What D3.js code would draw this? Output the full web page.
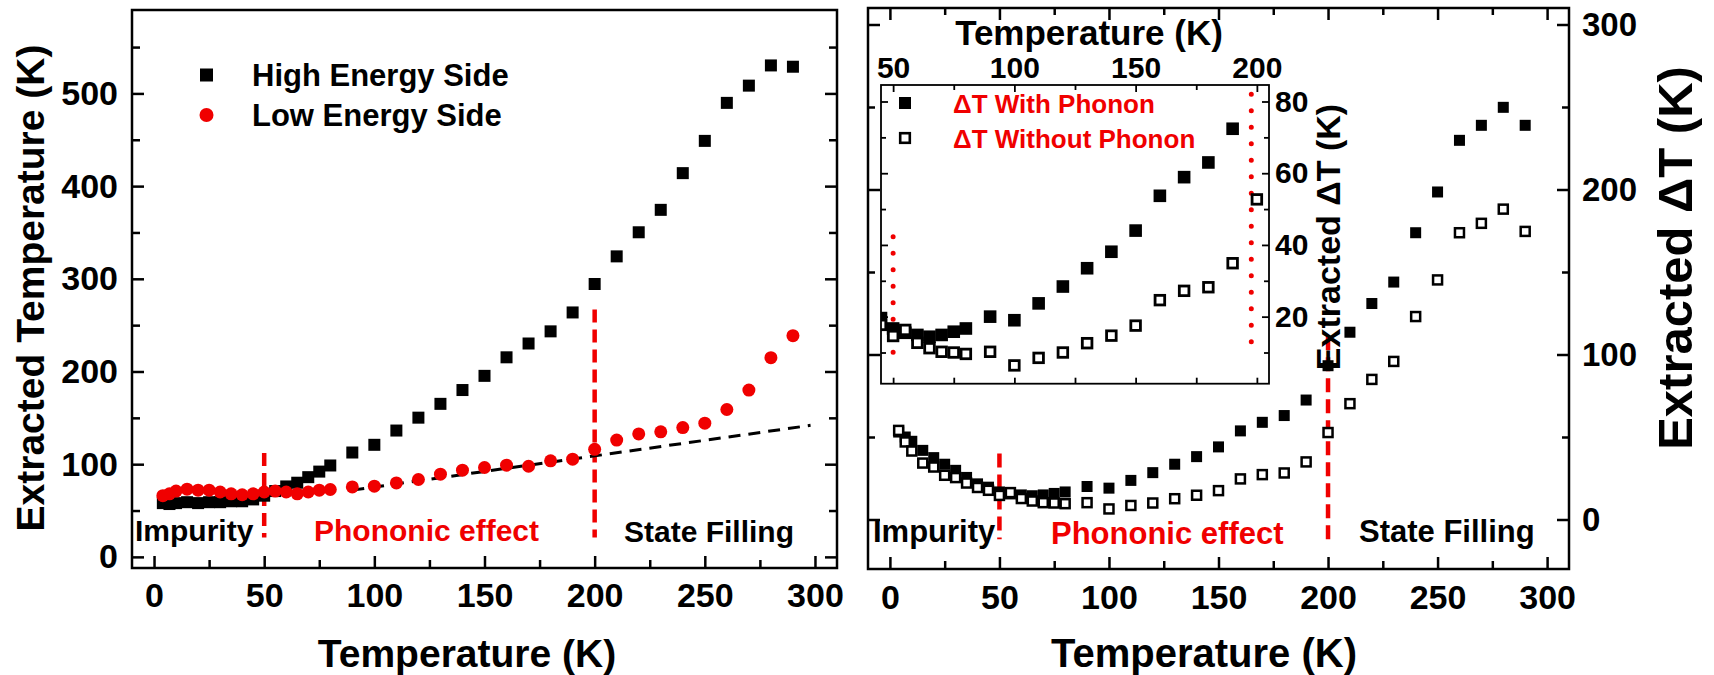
<!DOCTYPE html>
<meta charset="utf-8">
<title>Extracted temperature and extracted delta T</title>
<style>
body {
  margin: 0;
  background-color: #fff;
}
</style>
<body>
<script src="https://d3js.org/d3.v7.min.js"></script>
<script>
// ---- data ----
// lattice temperatures (K), shared by both panels
var temps = [4, 7, 10, 15, 20, 25, 30, 35, 40, 45, 50, 55, 60, 65, 70, 75, 80,
             90, 100, 110, 120, 130, 140, 150, 160, 170, 180, 190, 200,
             210, 220, 230, 240, 250, 260, 270, 280, 290];

// left panel: extracted carrier temperature (K)
var highSide = [58, 57, 58, 59, 58, 59, 59, 60, 60, 62, 66, 71, 76, 80, 86, 92, 98.6,
                112.6, 120.9, 136.3, 150.2, 165.1, 180, 195.3, 215.3, 230.2, 243.3, 263.7, 294.4,
                324.2, 350.2, 374.4, 414, 448.8, 489.8, 508.4, 530.2, 528.8];
var lowSide = [66, 68, 71, 73, 72, 72, 70, 68, 67, 68, 70, 71, 70, 68, 70, 72, 72.7,
               75.5, 76.3, 79.8, 83.5, 89.2, 93.5, 96.4, 98.9, 97.8, 103.6, 105.4, 116,
               126, 132.6, 134.9, 139.5, 144.2, 159, 180, 214.9, 238.6];

// linear phonon fit (dashed black)
var fitT = [90, 298];
var fitVals = [72, 141.9];

// right panel: extracted delta T (K)
var dtWith = [53, 50, 47.4, 41.9, 37.5, 33.5, 29.8, 25.5, 21.6, 19.6, 16.7, 15.5, 14.9, 14.4, 14.9, 15.8, 16.7,
              20, 19, 23.7, 28.4, 33.5, 38.1, 44, 53.7, 58.9, 63, 72.4, 93.2,
              113.5, 130.9, 143.9, 173.8, 198.5, 229.8, 238.9, 249.8, 238.9];
var dtWithout = [54, 47, 41.5, 34.2, 31.8, 26.8, 25.4, 22.1, 19.4, 17.7, 14.6, 16.3, 12.7, 11.2, 10.2, 10, 9.6,
                 10.2, 6.4, 8.5, 10, 12.6, 14.7, 17.5, 24.6, 27.2, 28.2, 34.9, 52.7,
                 70.2, 84.9, 95.8, 123, 145.2, 173.8, 179.5, 188.1, 174.6];

// region boundaries and labels
var bounds = [50, 200];
var leftBoundTop = [112, 267], leftBoundBottom = 21;
var rightBoundTop = [40, 111], rightBoundBottom = -12;
var insetBoundT = [50, 197.7], insetBoundTop = [42.3, 82], insetBoundBottom = [9.9, 8.5];
var regionNames = ["Impurity", "Phononic effect", "State Filling"];
var legendLeft = ["High Energy Side", "Low Energy Side"];
var legendInset = ["\u0394T With Phonon", "\u0394T Without Phonon"];

// ticks
var xMajor = [0, 50, 100, 150, 200, 250, 300];
var xMinor = [25, 75, 125, 175, 225, 275];
var yLeftMajor = [0, 100, 200, 300, 400, 500];
var yLeftMinor = [50, 150, 250, 350, 450, 550];
var yRightMajor = [0, 100, 200, 300];
var yRightMinor = [50, 150, 250];
var xInsetMajor = [50, 100, 150, 200];
var xInsetMinor = [75, 125, 175];
var yInsetMajor = [20, 40, 60, 80];
var yInsetMinor = [10, 30, 50, 70];

var font = "'Liberation Sans', Arial, sans-serif";
var red = "#f00000";

var svg = d3.select("body").append("svg")
    .attr("width", 1714)
    .attr("height", 675)
    .style("background", "#fff");

// scales
var xL = d3.scaleLinear().domain([-10, 310]).range([132, 837]);
var yL = d3.scaleLinear().domain([-12, 590]).range([568, 10]);
var xR = d3.scaleLinear().domain([-10, 310]).range([868, 1569]);
var yR = d3.scaleLinear().domain([-30, 310]).range([569, 8]);
var xI = d3.scaleLinear().domain([45, 205]).range([881, 1269]);
var yI = d3.scaleLinear().domain([1.3, 84.6]).range([383.7, 85]);

// draw one axis, no domain line
function axisAt(axis, tx, ty, fs, sw) {
  var a = svg.append("g")
      .attr("transform", "translate(" + tx + "," + ty + ")")
      .call(axis);
  a.select(".domain").remove();
  a.attr("font-size", fs).attr("font-family", font).attr("font-weight", "bold");
  a.selectAll("line").attr("stroke", "#000").attr("stroke-width", sw);
  a.selectAll("text").attr("fill", "#000");
  return a;
}

function text(x, y, s, size, color, anchor, rotate) {
  var t = svg.append("text")
      .attr("font-family", font)
      .attr("font-weight", "bold")
      .attr("font-size", size)
      .attr("fill", color || "#000")
      .attr("text-anchor", anchor || "start")
      .text(s);
  if (rotate) t.attr("transform", "translate(" + x + "," + y + ") rotate(-90)");
  else t.attr("x", x).attr("y", y);
  return t;
}

// ================= LEFT PANEL =================
var gL = svg.append("g");

// dashed region boundaries
bounds.forEach(function(b, i) {
  gL.append("line")
    .attr("x1", xL(b)).attr("x2", xL(b))
    .attr("y1", yL(leftBoundTop[i])).attr("y2", yL(leftBoundBottom))
    .attr("stroke", red).attr("stroke-width", 4.5)
    .attr("stroke-dasharray", "13,7");
});

// high energy side squares
gL.selectAll("rect.high")
  .data(temps)
  .enter().append("rect")
  .attr("class", "high")
  .attr("x", function(d) { return xL(d) - 6; })
  .attr("y", function(d, i) { return yL(highSide[i]) - 6; })
  .attr("width", 12).attr("height", 12)
  .attr("fill", "#000");

// dashed fit line
gL.append("line")
  .attr("x1", xL(fitT[0])).attr("y1", yL(fitVals[0]))
  .attr("x2", xL(fitT[1])).attr("y2", yL(fitVals[1]))
  .attr("stroke", "#000").attr("stroke-width", 3)
  .attr("stroke-dasharray", "12,8");

// low energy side circles
gL.selectAll("circle.low")
  .data(temps)
  .enter().append("circle")
  .attr("class", "low")
  .attr("cx", function(d) { return xL(d); })
  .attr("cy", function(d, i) { return yL(lowSide[i]); })
  .attr("r", 6.5)
  .attr("fill", red);

// frame and ticks
svg.append("rect").attr("x", 132).attr("y", 10).attr("width", 705).attr("height", 558)
  .attr("fill", "none").attr("stroke", "#000").attr("stroke-width", 2.5);
axisAt(d3.axisBottom(xL).tickValues(xMajor).tickSize(-12).tickPadding(15), 0, 568, 34, 2.5);
axisAt(d3.axisBottom(xL).tickValues(xMinor).tickSize(-8).tickFormat(""), 0, 568, 34, 2.5);
axisAt(d3.axisLeft(yL).tickValues(yLeftMajor).tickSize(-12).tickPadding(14), 132, 0, 34, 2.5);
axisAt(d3.axisLeft(yL).tickValues(yLeftMinor).tickSize(-8).tickFormat(""), 132, 0, 34, 2.5);
axisAt(d3.axisRight(yL).tickValues(yLeftMajor).tickSize(-12).tickFormat(""), 837, 0, 34, 2.5);
axisAt(d3.axisRight(yL).tickValues(yLeftMinor).tickSize(-8).tickFormat(""), 837, 0, 34, 2.5);

// legend
svg.append("rect").attr("x", 200).attr("y", 68.5).attr("width", 13).attr("height", 13).attr("fill", "#000");
svg.append("circle").attr("cx", 206.5).attr("cy", 115).attr("r", 7).attr("fill", red);
text(252, 86, legendLeft[0], 31);
text(252, 126, legendLeft[1], 31);

// region labels
text(135, 541, regionNames[0], 30);
text(314, 541, regionNames[1], 30, red);
text(624, 542, regionNames[2], 30);

// titles
text(44, 288, "Extracted Temperature (K)", 39, "#000", "middle", true);
text(467, 667, "Temperature (K)", 39, "#000", "middle");

// ================= RIGHT PANEL =================
var gR = svg.append("g");

bounds.forEach(function(b, i) {
  gR.append("line")
    .attr("x1", xR(b)).attr("x2", xR(b))
    .attr("y1", yR(rightBoundTop[i])).attr("y2", yR(rightBoundBottom))
    .attr("stroke", red).attr("stroke-width", 4.5)
    .attr("stroke-dasharray", "14,7");
});

gR.selectAll("rect.with")
  .data(temps)
  .enter().append("rect")
  .attr("class", "with")
  .attr("x", function(d) { return xR(d) - 5.5; })
  .attr("y", function(d, i) { return yR(dtWith[i]) - 5.5; })
  .attr("width", 11).attr("height", 11)
  .attr("fill", "#000");

gR.selectAll("rect.without")
  .data(temps)
  .enter().append("rect")
  .attr("class", "without")
  .attr("x", function(d) { return xR(d) - 4.5; })
  .attr("y", function(d, i) { return yR(dtWithout[i]) - 4.5; })
  .attr("width", 9).attr("height", 9)
  .attr("fill", "#fff").attr("stroke", "#000").attr("stroke-width", 2.5);

svg.append("rect").attr("x", 868).attr("y", 8).attr("width", 701).attr("height", 561)
  .attr("fill", "none").attr("stroke", "#000").attr("stroke-width", 2.5);
axisAt(d3.axisBottom(xR).tickValues(xMajor).tickSize(-12).tickPadding(16), 0, 569, 34, 2.5);
axisAt(d3.axisBottom(xR).tickValues(xMinor).tickSize(-8).tickFormat(""), 0, 569, 34, 2.5);
axisAt(d3.axisTop(xR).tickValues(xMajor).tickSize(-12).tickFormat(""), 0, 8, 34, 2.5);
axisAt(d3.axisTop(xR).tickValues(xMinor).tickSize(-7).tickFormat(""), 0, 8, 34, 2.5);
axisAt(d3.axisLeft(yR).tickValues(yRightMajor).tickSize(-12).tickFormat(""), 868, 0, 34, 2.5);
axisAt(d3.axisLeft(yR).tickValues(yRightMinor).tickSize(-7).tickFormat(""), 868, 0, 34, 2.5);
axisAt(d3.axisRight(yR).tickValues(yRightMajor).tickSize(-12).tickPadding(13), 1569, 0, 33, 2.5);
axisAt(d3.axisRight(yR).tickValues(yRightMinor).tickSize(-7).tickFormat(""), 1569, 0, 33, 2.5);

text(873, 542, regionNames[0], 31);
text(1051, 544, regionNames[1], 31, red);
text(1359, 542, regionNames[2], 31);

text(1204, 667, "Temperature (K)", 40, "#000", "middle");
text(1692, 258, "Extracted \u0394T (K)", 49, "#000", "middle", true);

// ================= INSET =================
svg.append("rect").attr("x", 881).attr("y", 85).attr("width", 388).attr("height", 298.7)
  .attr("fill", "#fff").attr("stroke", "none");

svg.append("clipPath").attr("id", "insetClip")
  .append("rect").attr("x", 881).attr("y", 85).attr("width", 388).attr("height", 298.7);

var gI = svg.append("g").attr("clip-path", "url(#insetClip)");

insetBoundT.forEach(function(b, i) {
  gI.append("line")
    .attr("x1", xI(b)).attr("x2", xI(b))
    .attr("y1", yI(insetBoundTop[i])).attr("y2", yI(insetBoundBottom[i]))
    .attr("stroke", red).attr("stroke-width", 5)
    .attr("stroke-linecap", "round")
    .attr("stroke-dasharray", "0,16.5");
});

gI.selectAll("rect.with")
  .data(temps)
  .enter().append("rect")
  .attr("class", "with")
  .attr("x", function(d) { return xI(d) - 6.3; })
  .attr("y", function(d, i) { return yI(dtWith[i]) - 6.3; })
  .attr("width", 12.6).attr("height", 12.6)
  .attr("fill", "#000");

gI.selectAll("rect.without")
  .data(temps)
  .enter().append("rect")
  .attr("class", "without")
  .attr("x", function(d) { return xI(d) - 4.8; })
  .attr("y", function(d, i) { return yI(dtWithout[i]) - 4.8; })
  .attr("width", 9.6).attr("height", 9.6)
  .attr("fill", "#fff").attr("stroke", "#000").attr("stroke-width", 2.8);

svg.append("rect").attr("x", 881).attr("y", 85).attr("width", 388).attr("height", 298.7)
  .attr("fill", "none").attr("stroke", "#000").attr("stroke-width", 1.8);
axisAt(d3.axisBottom(xI).tickValues(xInsetMajor.concat(xInsetMinor)).tickSize(-6).tickFormat(""), 0, 383.7, 27, 1.8);
axisAt(d3.axisTop(xI).tickValues(xInsetMajor).tickSize(-7).tickPadding(7), 0, 85, 30, 1.8);
axisAt(d3.axisTop(xI).tickValues(xInsetMinor).tickSize(-5).tickFormat(""), 0, 85, 30, 1.8);
axisAt(d3.axisLeft(yI).tickValues(yInsetMajor).tickSize(-7).tickFormat(""), 881, 0, 27, 1.8);
axisAt(d3.axisLeft(yI).tickValues(yInsetMinor).tickSize(-5).tickFormat(""), 881, 0, 27, 1.8);
axisAt(d3.axisRight(yI).tickValues(yInsetMajor).tickSize(-7).tickPadding(6), 1269, 0, 30, 1.8);
axisAt(d3.axisRight(yI).tickValues(yInsetMinor).tickSize(-5).tickFormat(""), 1269, 0, 30, 1.8);

// inset legend
svg.append("rect").attr("x", 899).attr("y", 97).attr("width", 12).attr("height", 12).attr("fill", "#000");
svg.append("rect").attr("x", 900.2).attr("y", 133.2).attr("width", 9.6).attr("height", 9.6)
  .attr("fill", "#fff").attr("stroke", "#000").attr("stroke-width", 2.6);
text(953, 113, legendInset[0], 26, red);
text(953, 148, legendInset[1], 26, red);

text(1089, 45, "Temperature (K)", 35, "#000", "middle");
text(1340, 237, "Extracted \u0394T (K)", 34, "#000", "middle", true);
</script>
</body>
